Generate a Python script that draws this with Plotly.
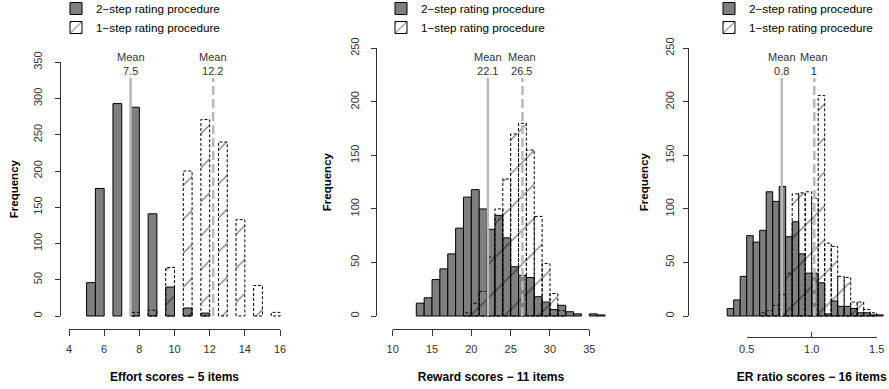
import plotly.graph_objects as go

# ---------------- data ----------------
# Panel 1: Effort scores (bin width 0.5, left edges)
effort_bin_width = 0.5
effort_two_left = [5.0, 5.5, 6.5, 7.5, 8.5, 9.5, 10.5, 11.5]
effort_two_count = [46, 176, 293, 288, 141, 40, 11, 4]
effort_one_left = [7.5, 8.5, 9.5, 10.5, 11.5, 12.5, 13.5, 14.5, 15.5]
effort_one_count = [5, 8, 67, 200, 271, 240, 133, 42, 5]
effort_means = [7.5, 12.2]
effort_mean_labels = ["7.5", "12.2"]
effort_xticks = [4, 6, 8, 10, 12, 14, 16]
effort_yticks = [0, 50, 100, 150, 200, 250, 300, 350]

# Panel 2: Reward scores (bin width 1)
reward_bin_width = 1
reward_two_left = [13, 14, 15, 16, 17, 18, 19, 20, 21, 22, 23, 24, 25, 26, 27, 28, 29, 30, 31, 32, 33, 35, 36]
reward_two_count = [12, 17, 34, 44, 58, 82, 111, 118, 100, 81, 94, 73, 46, 38, 36, 18, 13, 6, 10, 4, 2, 2, 1]
reward_one_left = [19, 20, 21, 22, 23, 24, 25, 26, 27, 28, 29, 30, 31]
reward_one_count = [3, 12, 23, 55, 100, 128, 170, 180, 155, 93, 49, 21, 5]
reward_means = [22.1, 26.5]
reward_mean_labels = ["22.1", "26.5"]
reward_xticks = [10, 15, 20, 25, 30, 35]
reward_yticks = [0, 50, 100, 150, 200, 250]

# Panel 3: ER ratio scores (bin width 0.05)
er_bin_width = 0.05
er_two_left = [0.35, 0.40, 0.45, 0.50, 0.55, 0.60, 0.65, 0.70, 0.75, 0.80, 0.85, 0.90,
               0.95, 1.00, 1.05, 1.10, 1.15, 1.20, 1.25, 1.30, 1.35, 1.40, 1.45, 1.50]
er_two_count = [7, 15, 37, 75, 69, 80, 116, 107, 121, 74, 88, 58,
                40, 40, 31, 2, 14, 9, 9, 7, 3, 3, 1, 1]
er_one_left = [0.60, 0.65, 0.70, 0.75, 0.80, 0.85, 0.90, 0.95, 1.00, 1.05, 1.10,
               1.15, 1.20, 1.25, 1.30, 1.35, 1.40, 1.45]
er_one_count = [3, 5, 10, 20, 40, 114, 115, 116, 110, 206, 68,
                65, 37, 36, 13, 13, 6, 3]
er_means = [0.77, 1.02]
er_mean_labels = ["0.8", "1"]
er_xticks = [0.5, 1.0, 1.5]
er_xticklabels = ["0.5", "1.0", "1.5"]
er_yticks = [0, 50, 100, 150, 200, 250]

x_titles = ["Effort scores \u2212 5 items", "Reward scores \u2212 11 items", "ER ratio scores \u2212 16 items"]
y_title = "Frequency"
legend_names = ["2\u2212step rating procedure", "1\u2212step rating procedure"]

# ---------------- styling / layout geometry ----------------
W, H = 889, 389
FONT = "Liberation Sans, Arial, Helvetica, sans-serif"
GRAY_FILL = "#7f7f7f"
MEAN_COLOR = "#b8b8b8"
TEXT = "#333333"
CLEAR = "rgba(0,0,0,0)"


def fx(p):
    return p / W


def fy(p):
    return 1 - p / H


PLOT_TOP, PLOT_BOTTOM = 37, 329
ZERO_PX = 316
MEAN_TOP_PX = 78

panels = [
    dict(two=(effort_two_left, effort_two_count), one=(effort_one_left, effort_one_count),
         bw=effort_bin_width, means=effort_means, mlabels=effort_mean_labels,
         xticks=effort_xticks, xticktext=[str(v) for v in effort_xticks], yticks=effort_yticks,
         xpx=(60, 289), x_ref=(4, 69, 16, 280), yscale=(ZERO_PX - 62.3) / 350,
         legend_x=56, xaxis_px=329, xticks_dir="outside", xticklen=6, xlabstand=4,
         ylabstand=9, ytitlestand=9),
    dict(two=(reward_two_left, reward_two_count), one=(reward_one_left, reward_one_count),
         bw=reward_bin_width, means=reward_means, mlabels=reward_mean_labels,
         xticks=reward_xticks, xticktext=[str(v) for v in reward_xticks], yticks=reward_yticks,
         xpx=(376, 614), x_ref=(10, 392.7, 35, 589.3), yscale=(ZERO_PX - 48.3) / 250,
         legend_x=381, xaxis_px=329, xticks_dir="outside", xticklen=6, xlabstand=4,
         ylabstand=8, ytitlestand=13),
    dict(two=(er_two_left, er_two_count), one=(er_one_left, er_one_count),
         bw=er_bin_width, means=er_means, mlabels=er_mean_labels,
         xticks=er_xticks, xticktext=er_xticklabels, yticks=er_yticks,
         xpx=(688, 889), x_ref=(0.5, 746.7, 1.5, 876.7), yscale=(ZERO_PX - 48.3) / 250,
         legend_x=709, xaxis_px=337, xticks_dir="inside", xticklen=5, xlabstand=2,
         ylabstand=5, ytitlestand=11),
]

fig = go.Figure()
annotations = []
layout_axes = {}

for i, p in enumerate(panels, start=1):
    sfx = "" if i == 1 else str(i)
    dsfx = str(i + 3)
    xa, ya = "x" + sfx, "y" + sfx
    xd, yd = "x" + dsfx, "y" + dsfx
    leg = "legend" + sfx
    bw = p["bw"]

    # pixel <-> data mapping
    v0, p0, v1, p1 = p["x_ref"]
    xs = (p1 - p0) / (v1 - v0)
    ys = p["yscale"]

    def xpix(v, v0=v0, p0=p0, xs=xs):
        return p0 + (v - v0) * xs

    def ypix(v, ys=ys):
        return ZERO_PX - v * ys

    xr = [v0 - (p0 - p["xpx"][0]) / xs, v0 + (p["xpx"][1] - p0) / xs]
    yr = [-(PLOT_BOTTOM - ZERO_PX) / ys, (ZERO_PX - PLOT_TOP) / ys]
    mean_top = (ZERO_PX - MEAN_TOP_PX) / ys

    two_left, two_count = p["two"]
    one_left, one_count = p["one"]

    # 2-step histogram (grey filled)
    fig.add_trace(go.Bar(
        x=[l + bw / 2 for l in two_left], y=two_count, width=bw,
        marker=dict(color=GRAY_FILL, line=dict(color="black", width=1)),
        name=legend_names[0], legend=leg, showlegend=True,
        xaxis=xa, yaxis=ya, hoverinfo="skip"))

    # 1-step histogram: hatch fill
    fig.add_trace(go.Bar(
        x=[l + bw / 2 for l in one_left], y=one_count, width=bw,
        marker=dict(color=CLEAR, line=dict(width=0),
                    pattern=dict(shape="/", fgcolor="black", bgcolor=CLEAR,
                                 size=24, solidity=0.05, fgopacity=0.6)),
        showlegend=False, xaxis=xa, yaxis=ya, hoverinfo="skip"))

    # 1-step histogram: dashed outlines
    ox, oy = [], []
    for l, c in zip(one_left, one_count):
        ox += [l, l, l + bw, l + bw, l, None]
        oy += [0, c, c, 0, 0, None]
    fig.add_trace(go.Scatter(
        x=ox, y=oy, mode="lines", line=dict(color="black", width=1, dash="3px,2px"),
        showlegend=False, xaxis=xa, yaxis=ya, hoverinfo="skip"))

    # legend-only swatch for the 1-step procedure
    fig.add_trace(go.Bar(
        x=[None], y=[None],
        marker=dict(color="white", line=dict(color="black", width=1),
                    pattern=dict(shape="/", fgcolor="black", bgcolor="white", size=9, solidity=0.15)),
        name=legend_names[1], legend=leg, showlegend=True,
        xaxis=xa, yaxis=ya, hoverinfo="skip"))

    # mean lines
    for m, dash in zip(p["means"], ["solid", "9px,4px"]):
        fig.add_trace(go.Scatter(
            x=[m, m], y=[0, mean_top], mode="lines",
            line=dict(color=MEAN_COLOR, width=2.5, dash=dash),
            showlegend=False, xaxis=xa, yaxis=ya, hoverinfo="skip"))
    for m, lab in zip(p["means"], p["mlabels"]):
        annotations.append(dict(
            x=m, xref=xa, y=fy(63.5), yref="paper", text="Mean<br>" + lab,
            showarrow=False, xanchor="center", yanchor="middle",
            font=dict(family=FONT, size=11, color=TEXT)))

    # hidden data axes (full plotting region)
    layout_axes["xaxis" + sfx] = dict(
        domain=[fx(p["xpx"][0]), min(1.0, fx(p["xpx"][1]))], range=xr, anchor=ya,
        visible=False)
    layout_axes["yaxis" + sfx] = dict(
        domain=[fy(PLOT_BOTTOM), fy(PLOT_TOP)], range=yr, anchor=xa, visible=False)

    # visible R-style axes spanning only the tick range
    fig.add_trace(go.Scatter(x=[None], y=[None], xaxis=xd, yaxis=yd,
                             showlegend=False, hoverinfo="skip"))
    xt, yt = p["xticks"], p["yticks"]
    layout_axes["xaxis" + dsfx] = dict(
        domain=[fx(xpix(xt[0])), fx(xpix(xt[-1]))], range=[xt[0], xt[-1]],
        anchor="free", position=fy(p["xaxis_px"]),
        showgrid=False, zeroline=False, showline=True, linecolor=TEXT, linewidth=1,
        tickmode="array", tickvals=xt, ticktext=p["xticktext"],
        ticks=p["xticks_dir"], ticklen=p["xticklen"], tickcolor=TEXT, tickwidth=1,
        ticklabelstandoff=p["xlabstand"],
        tickfont=dict(family=FONT, size=11, color=TEXT),
        title=dict(text="<b>" + x_titles[i - 1] + "</b>", standoff=18,
                   font=dict(family=FONT, size=12, color="black")))
    layout_axes["yaxis" + dsfx] = dict(
        domain=[fy(ypix(yt[0])), fy(ypix(yt[-1]))], range=[yt[0], yt[-1]],
        anchor="free", position=fx(p["xpx"][0]),
        showgrid=False, zeroline=False, showline=True, linecolor=TEXT, linewidth=1,
        tickmode="array", tickvals=yt,
        ticks="outside", ticklen=5, tickcolor=TEXT, tickwidth=1, tickangle=-90,
        ticklabelstandoff=p["ylabstand"],
        tickfont=dict(family=FONT, size=11, color=TEXT),
        title=dict(text="<b>" + y_title + "</b>", standoff=p["ytitlestand"],
                   font=dict(family=FONT, size=11.5, color="black")))

    layout_axes[leg] = dict(
        x=fx(p["legend_x"]), y=fy(-6), xanchor="left", yanchor="top",
        bgcolor=CLEAR, font=dict(family=FONT, size=11.7, color="black"),
        tracegroupgap=0, itemwidth=30, traceorder="normal")

fig.update_layout(
    width=W, height=H, margin=dict(l=0, r=0, t=0, b=0, autoexpand=False),
    paper_bgcolor="white", plot_bgcolor=CLEAR, barmode="overlay",
    font=dict(family=FONT, color=TEXT),
    annotations=annotations,
    **layout_axes)

fig.write_html("out.html", config={"displayModeBar": False},
               post_script="document.body.style.margin='0px';")
